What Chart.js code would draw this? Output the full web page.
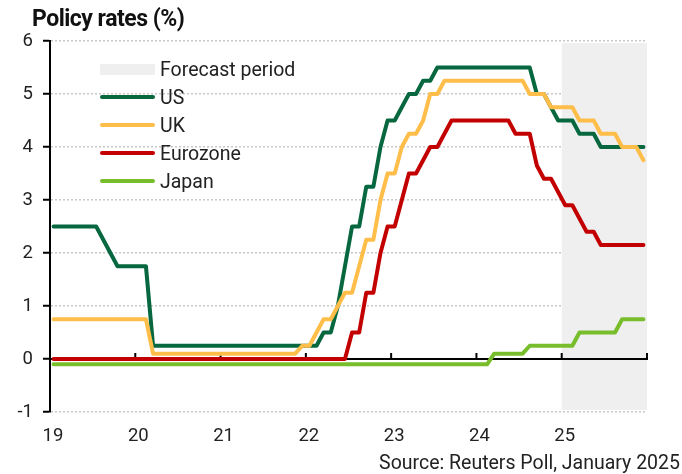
<!DOCTYPE html>
<html>
<head>
<meta charset="utf-8">
<title>Policy rates</title>
<script src="https://cdn.jsdelivr.net/npm/chart.js"></script>
<style>
  body { margin: 0; background: #fff; font-family: Roboto, sans-serif; }
  #wrap { position: relative; width: 682px; height: 474px; }
  #title { position: absolute; left: 32px; top: 5px; font-weight: 700; font-size: 23px; color: #111; letter-spacing: -0.5px; white-space: nowrap; }
  #source { position: absolute; right: 2px; top: 451px; font-size: 19.5px; color: #222; white-space: nowrap; }
  #legend { position: absolute; left: 100px; top: 55px; }
  .row { height: 28px; display: flex; align-items: center; font-size: 19.5px; color: #222; }
  .sw { width: 55px; margin-right: 5px; }
</style>
</head>
<body>
<div id="wrap">
  <canvas id="chart"></canvas>
  <div id="title">Policy rates (%)</div>
  <div id="legend"></div>
  <div id="source">Source: Reuters Poll, January 2025</div>
</div>
<script>
// monthly values, Jan 2019 .. Dec 2025 (84 months)
const yearLabels = ['19', '20', '21', '22', '23', '24', '25', ''];
const forecastStart = 72; // Jan 2025

const us = [
  2.5, 2.5, 2.5, 2.5, 2.5, 2.5, 2.5, 2.25, 2.0, 1.75, 1.75, 1.75,
  1.75, 1.75, 0.25, 0.25, 0.25, 0.25, 0.25, 0.25, 0.25, 0.25, 0.25, 0.25,
  0.25, 0.25, 0.25, 0.25, 0.25, 0.25, 0.25, 0.25, 0.25, 0.25, 0.25, 0.25,
  0.25, 0.25, 0.5, 0.5, 1.0, 1.75, 2.5, 2.5, 3.25, 3.25, 4.0, 4.5,
  4.5, 4.75, 5.0, 5.0, 5.25, 5.25, 5.5, 5.5, 5.5, 5.5, 5.5, 5.5,
  5.5, 5.5, 5.5, 5.5, 5.5, 5.5, 5.5, 5.5, 5.0, 5.0, 4.75, 4.5,
  4.5, 4.5, 4.25, 4.25, 4.25, 4.0, 4.0, 4.0, 4.0, 4.0, 4.0, 4.0
];
const uk = [
  0.75, 0.75, 0.75, 0.75, 0.75, 0.75, 0.75, 0.75, 0.75, 0.75, 0.75, 0.75,
  0.75, 0.75, 0.1, 0.1, 0.1, 0.1, 0.1, 0.1, 0.1, 0.1, 0.1, 0.1,
  0.1, 0.1, 0.1, 0.1, 0.1, 0.1, 0.1, 0.1, 0.1, 0.1, 0.1, 0.25,
  0.25, 0.5, 0.75, 0.75, 1.0, 1.25, 1.25, 1.75, 2.25, 2.25, 3.0, 3.5,
  3.5, 4.0, 4.25, 4.25, 4.5, 5.0, 5.0, 5.25, 5.25, 5.25, 5.25, 5.25,
  5.25, 5.25, 5.25, 5.25, 5.25, 5.25, 5.25, 5.0, 5.0, 5.0, 4.75, 4.75,
  4.75, 4.75, 4.5, 4.5, 4.5, 4.25, 4.25, 4.25, 4.0, 4.0, 4.0, 3.75
];
const eurozone = [
  0, 0, 0, 0, 0, 0, 0, 0, 0, 0, 0, 0,
  0, 0, 0, 0, 0, 0, 0, 0, 0, 0, 0, 0,
  0, 0, 0, 0, 0, 0, 0, 0, 0, 0, 0, 0,
  0, 0, 0, 0, 0, 0, 0.5, 0.5, 1.25, 1.25, 2.0, 2.5,
  2.5, 3.0, 3.5, 3.5, 3.75, 4.0, 4.0, 4.25, 4.5, 4.5, 4.5, 4.5,
  4.5, 4.5, 4.5, 4.5, 4.5, 4.25, 4.25, 4.25, 3.65, 3.4, 3.4, 3.15,
  2.9, 2.9, 2.65, 2.4, 2.4, 2.15, 2.15, 2.15, 2.15, 2.15, 2.15, 2.15
];
const japan = [
  -0.1, -0.1, -0.1, -0.1, -0.1, -0.1, -0.1, -0.1, -0.1, -0.1, -0.1, -0.1,
  -0.1, -0.1, -0.1, -0.1, -0.1, -0.1, -0.1, -0.1, -0.1, -0.1, -0.1, -0.1,
  -0.1, -0.1, -0.1, -0.1, -0.1, -0.1, -0.1, -0.1, -0.1, -0.1, -0.1, -0.1,
  -0.1, -0.1, -0.1, -0.1, -0.1, -0.1, -0.1, -0.1, -0.1, -0.1, -0.1, -0.1,
  -0.1, -0.1, -0.1, -0.1, -0.1, -0.1, -0.1, -0.1, -0.1, -0.1, -0.1, -0.1,
  -0.1, -0.1, 0.1, 0.1, 0.1, 0.1, 0.1, 0.25, 0.25, 0.25, 0.25, 0.25,
  0.25, 0.25, 0.5, 0.5, 0.5, 0.5, 0.5, 0.5, 0.75, 0.75, 0.75, 0.75
];

const seriesNames = ['US', 'UK', 'Eurozone', 'Japan'];
const seriesColors = ['#07673f', '#ffbd4a', '#c30000', '#78bd2b'];
const seriesData = [us, uk, eurozone, japan];
const drawOrder = [1, 0, 2, 3]; // UK on top

const FONT = 'Roboto';

// points sit in the middle of each month
const toPoints = arr => arr.map((v, i) => ({ x: i + 0.5, y: v }));

// legend (html)
const legend = document.getElementById('legend');
legend.innerHTML =
  '<div class="row"><div class="sw" style="height:11px;background:#efefef"></div>Forecast period</div>' +
  seriesNames.map((n, i) =>
    '<div class="row"><div class="sw" style="height:4px;border-radius:2px;background:' + seriesColors[i] + '"></div>' + n + '</div>'
  ).join('');

const backdrop = {
  id: 'backdrop',
  beforeDatasetsDraw(chart) {
    const { ctx, chartArea, scales: { x, y } } = chart;
    const x0 = x.getPixelForValue(forecastStart);
    const yt = y.getPixelForValue(y.max) + 2;
    const yb = y.getPixelForValue(y.min) - 2;
    ctx.save();
    ctx.fillStyle = '#efefef';
    ctx.fillRect(x0, yt, chartArea.right - x0, yb - yt);

    // the zero line works as x axis, ticks point up
    const y0 = y.getPixelForValue(0);
    ctx.strokeStyle = '#000';
    ctx.lineWidth = 2;
    ctx.beginPath();
    ctx.moveTo(chartArea.left, y0);
    ctx.lineTo(chartArea.right + 1, y0);
    x.ticks.forEach(t => {
      const px = x.getPixelForValue(t.value);
      ctx.moveTo(px, y0);
      ctx.lineTo(px, y0 - 6);
    });
    ctx.stroke();
    ctx.restore();
  }
};

new Chart(document.getElementById('chart'), {
  type: 'line',
  data: {
    datasets: seriesNames.map((n, i) => ({
      label: n,
      data: toPoints(seriesData[i]),
      borderColor: seriesColors[i],
      borderWidth: 4,
      pointRadius: 0,
      tension: 0,
      borderCapStyle: 'round',
      borderJoinStyle: 'round',
      order: drawOrder[i]
    }))
  },
  options: {
    responsive: true,
    maintainAspectRatio: false,
    animation: false,
    layout: { padding: { top: 41, right: 35, left: 0, bottom: 0 } },
    plugins: {
      legend: { display: false },
      tooltip: { enabled: false }
    },
    scales: {
      x: {
        type: 'linear',
        min: 0,
        max: 84,
        ticks: {
          stepSize: 12,
          autoSkip: false,
          maxRotation: 0,
          padding: 13,
          labelOffset: 3,
          color: '#222',
          font: { family: FONT, size: 18.5 },
          callback: v => yearLabels[v / 12]
        },
        grid: { display: false, drawTicks: false },
        border: { display: false },
        afterFit(s) { s.height = 62; }
      },
      y: {
        min: -1,
        max: 6,
        ticks: {
          stepSize: 1,
          padding: 10,
          color: '#222',
          font: { family: FONT, size: 18.5 }
        },
        grid: { color: '#c8c8c8', lineWidth: 1.5, tickLength: 7, tickColor: '#000', tickWidth: 2 },
        border: { display: true, color: '#000', width: 2, dash: [2, 2] },
        afterFit(s) { s.width = 50; }
      }
    }
  },
  plugins: [backdrop]
});
</script>
</body>
</html>
